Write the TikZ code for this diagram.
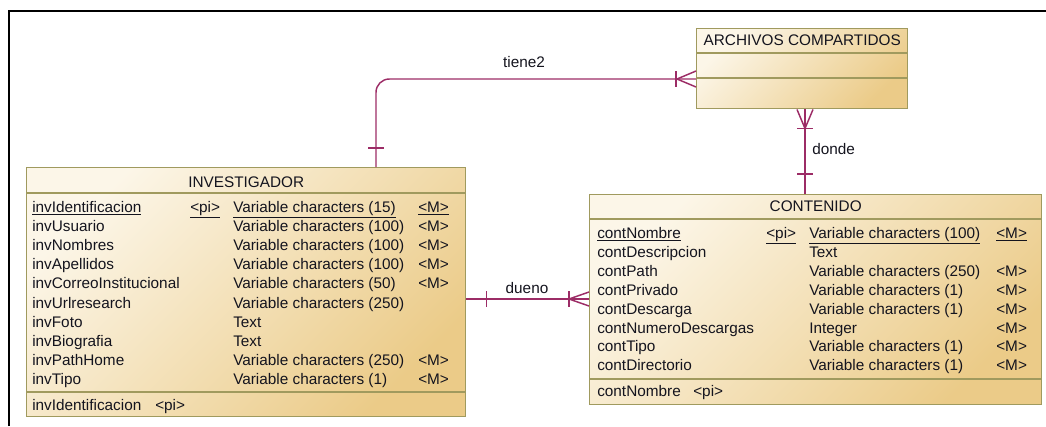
\documentclass[tikz,border=0pt]{standalone}
\usepackage{fontspec}
\setmainfont{Liberation Sans}
\usetikzlibrary{calc}
\definecolor{boxlight}{HTML}{FCF6E8}
\definecolor{boxdark}{HTML}{EBCB88}
\definecolor{boxline}{HTML}{A09A5E}
\definecolor{relcol}{HTML}{9C2C66}
\definecolor{ink}{HTML}{14141E}
\tikzset{
  entity/.style={rectangle, draw=boxline, line width=1.1pt, inner sep=0pt, anchor=north west,
    top color=boxlight, bottom color=boxdark, shading angle=45},
  sepline/.style={draw=boxline, line width=1.1pt},
  txt/.style={inner sep=0pt, anchor=base west, text=ink, font=\fontsize{11.5}{13}\selectfont},
  hdr/.style={txt, anchor=base},
  relline/.style={draw=relcol, line width=1.1pt},
  frameline/.style={draw=black, line width=1.6pt},
}
\begin{document}
\begin{tikzpicture}[x=0.75pt, y=-0.75pt]
\useasboundingbox (0,0) rectangle (1046,426);

% outer frame (top and left edges)
\draw[frameline] (9,426) -- (9,11) -- (1046,11);

% ---------- entities ----------
\node[entity, minimum width=329.25pt, minimum height=186.75pt] (inv) at (26,167) {};
\node[entity, minimum width=158.25pt, minimum height=60pt] (arch) at (696,28) {};
\node[entity, minimum width=339pt, minimum height=157.5pt] (cont) at (589,194) {};

% compartment separators
\draw[sepline] ($(inv.north west)+(0,26)$) -- ($(inv.north east)+(0,26)$);
\draw[sepline] ($(inv.north west)+(0,225)$) -- ($(inv.north east)+(0,225)$);
\draw[sepline] ($(arch.north west)+(0,25)$) -- ($(arch.north east)+(0,25)$);
\draw[sepline] ($(arch.north west)+(0,50)$) -- ($(arch.north east)+(0,50)$);
\draw[sepline] ($(cont.north west)+(0,25)$) -- ($(cont.north east)+(0,25)$);
\draw[sepline] ($(cont.north west)+(0,185)$) -- ($(cont.north east)+(0,185)$);

% titles
\node[hdr] (inv-title) at ($(inv.north)+(0,20.5)$) {INVESTIGADOR};
\node[hdr] (arch-title) at ($(arch.north)+(0,17.5)$) {ARCHIVOS COMPARTIDOS};
\node[hdr] (cont-title) at ($(cont.north)+(0,17.5)$) {CONTENIDO};

% ---------- INVESTIGADOR attributes ----------
\node[txt] (inv-n0) at (32,212.5) {\underline{invIdentificacion}};
\node[txt] (inv-p0) at (190,212.5) {\underline{<pi>}};
\node[txt] (inv-t0) at (233,212.5) {\underline{Variable characters (15)}};
\node[txt] (inv-m0) at (418,212.5) {\underline{<M>}};
\foreach \n/\t/\m [count=\i] in {
  invUsuario/Variable characters (100)/<M>,
  invNombres/Variable characters (100)/<M>,
  invApellidos/Variable characters (100)/<M>,
  invCorreoInstitucional/Variable characters (50)/<M>,
  invUrlresearch/Variable characters (250)/{},
  invFoto/Text/{},
  invBiografia/Text/{},
  invPathHome/Variable characters (250)/<M>,
  invTipo/Variable characters (1)/<M>}{
  \node[txt] (inv-n\i) at (32,212.5+19.1*\i) {\n};
  \node[txt] (inv-t\i) at (233,212.5+19.1*\i) {\t};
  \node[txt] (inv-m\i) at (418,212.5+19.1*\i) {\m};
}
\node[txt] (inv-key) at (32,410.5) {invIdentificacion};
\node[txt] (inv-keypi) at (155,410.5) {<pi>};

% ---------- CONTENIDO attributes ----------
\node[txt] (cont-n0) at (597,238.5) {\underline{contNombre}};
\node[txt] (cont-p0) at (766,238.5) {\underline{<pi>}};
\node[txt] (cont-t0) at (809,238.5) {\underline{Variable characters (100)}};
\node[txt] (cont-m0) at (996,238.5) {\underline{<M>}};
\foreach \n/\t/\m [count=\i] in {
  contDescripcion/Text/{},
  contPath/Variable characters (250)/<M>,
  contPrivado/Variable characters (1)/<M>,
  contDescarga/Variable characters (1)/<M>,
  contNumeroDescargas/Integer/<M>,
  contTipo/Variable characters (1)/<M>,
  contDirectorio/Variable characters (1)/<M>}{
  \node[txt] (cont-n\i) at (597,238.5+18.9*\i) {\n};
  \node[txt] (cont-t\i) at (809,238.5+18.9*\i) {\t};
  \node[txt] (cont-m\i) at (996,238.5+18.9*\i) {\m};
}
\node[txt] (cont-key) at (597,396.5) {contNombre};
\node[txt] (cont-keypi) at (693,396.5) {<pi>};

% ---------- relationship: tiene2 ----------
\coordinate (t-a) at ($(inv.north west)+(350,0)$);
\coordinate (t-b) at ($(arch.north west)+(0,51)$);
\draw[relline, rounded corners=10pt] (t-a) |- (t-b);
\draw[relline] ($(t-a)+(-8,-19)$) -- ($(t-a)+(8,-19)$);
\draw[relline] ($(t-b)+(-20,-8)$) -- ($(t-b)+(-20,8)$);
\draw[relline] ($(t-b)+(0,-8)$) -- ($(t-b)+(-19,0)$) -- ($(t-b)+(0,8)$);
\node[txt, anchor=center] (tiene2) at (524,62) {tiene2};

% ---------- relationship: donde ----------
\coordinate (d-a) at ($(arch.south west)+(109,0)$);
\coordinate (d-b) at (d-a |- cont.north);
\draw[relline] (d-a) -- (d-b);
\draw[relline] ($(d-a)+(-8,0)$) -- ($(d-a)+(0,19)$) -- ($(d-a)+(8,0)$);
\draw[relline] ($(d-a)+(-8,19)$) -- ($(d-a)+(8,19)$);
\draw[relline] ($(d-b)+(-8,-20)$) -- ($(d-b)+(8,-20)$);
\node[txt, anchor=west] (donde) at (812,149) {donde};

% ---------- relationship: dueno ----------
\coordinate (u-a) at ($(inv.north east)+(0,132)$);
\coordinate (u-b) at (u-a -| cont.west);
\draw[relline] (u-a) -- (u-b);
\draw[relline] ($(u-a)+(20,-8)$) -- ($(u-a)+(20,8)$);
\draw[relline] ($(u-b)+(-20,-8)$) -- ($(u-b)+(-20,8)$);
\draw[relline] ($(u-b)+(0,-7)$) -- ($(u-b)+(-20,0)$) -- ($(u-b)+(0,7)$);
\node[txt, anchor=center] (dueno) at (527,288) {dueno};
\end{tikzpicture}
\end{document}
